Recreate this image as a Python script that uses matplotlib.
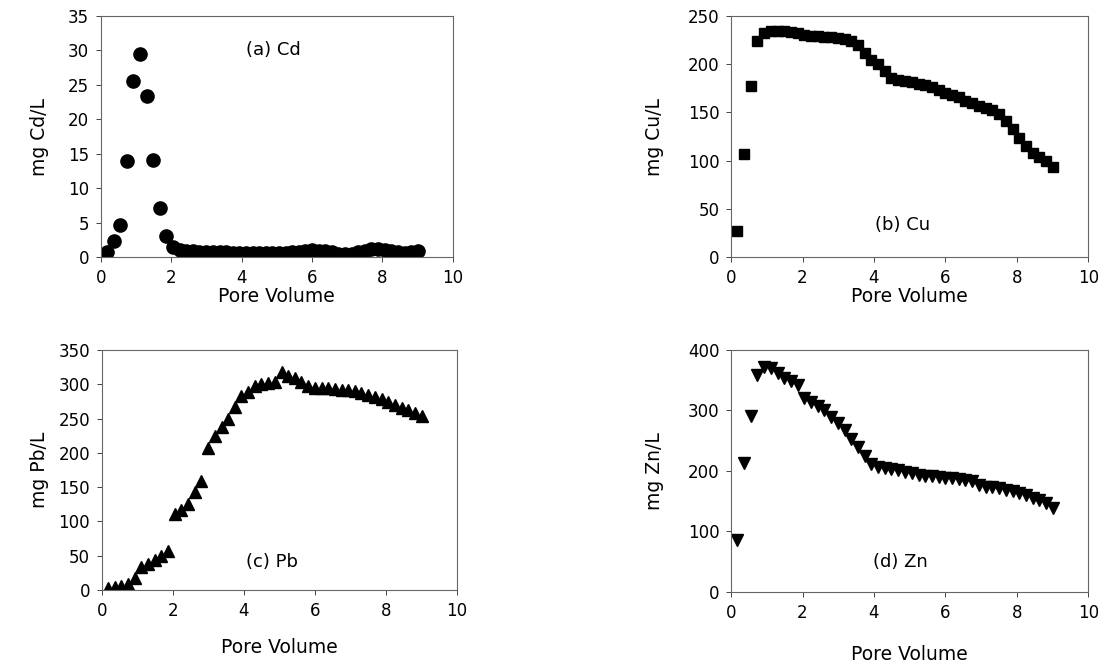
import matplotlib
matplotlib.use("Agg")
import matplotlib.pyplot as plt

plt.rcParams['font.family'] = ['DejaVu Sans']

# pore volume (same sampling for all four metals)
pore_volume = [0.17, 0.36, 0.55, 0.73, 0.92, 1.11, 1.30, 1.49, 1.67, 1.86,
               2.05, 2.24, 2.43, 2.61, 2.80, 2.99, 3.18, 3.37, 3.55, 3.74,
               3.93, 4.12, 4.31, 4.49, 4.68, 4.87, 5.06, 5.25, 5.43, 5.62,
               5.81, 6.00, 6.19, 6.37, 6.56, 6.75, 6.94, 7.13, 7.31, 7.50,
               7.69, 7.88, 8.07, 8.25, 8.44, 8.63, 8.82, 9.01]

cd = [0.7, 2.4, 4.7, 14.0, 25.6, 29.5, 23.4, 14.1, 7.1, 3.1,
      1.5, 1.0, 0.9, 0.85, 0.8, 0.8, 0.75, 0.7, 0.7, 0.65,
      0.65, 0.6, 0.6, 0.6, 0.6, 0.55, 0.55, 0.6, 0.7, 0.8,
      0.95, 1.0, 0.95, 0.85, 0.7, 0.5, 0.4, 0.45, 0.7, 0.95,
      1.15, 1.2, 1.1, 0.9, 0.7, 0.6, 0.7, 0.9]

cu = [27, 107, 177, 224, 232, 235, 235, 234, 233, 232,
      230, 229, 229, 228, 228, 227, 226, 224, 220, 212,
      204, 200, 193, 186, 184, 183, 182, 180, 178, 176,
      173, 170, 168, 166, 162, 160, 157, 155, 153, 148,
      141, 133, 124, 115, 108, 104, 100, 93]

pb = [2, 4, 5, 8, 17, 34, 37, 43, 49, 57,
      111, 117, 125, 143, 159, 207, 224, 237, 249, 267,
      283, 289, 297, 301, 302, 303, 318, 312, 309, 303,
      297, 295, 294, 294, 293, 292, 291, 290, 288, 285,
      282, 278, 274, 270, 266, 262, 258, 254]

zn = [86, 213, 291, 358, 372, 370, 362, 354, 348, 342,
      320, 314, 308, 300, 290, 279, 267, 253, 239, 225,
      212, 207, 205, 203, 201, 199, 196, 194, 192, 191,
      190, 189, 188, 187, 185, 183, 177, 174, 173, 171,
      169, 166, 163, 160, 156, 152, 147, 138]

panels = [
    # values, marker, size, ylabel, ymax, ystep, tag, tag_xy, rect, ylab_x, xlab_y
    (cd, 'o', 9.5, 'mg Cd/L', 35, 5, '(a) Cd', (4.9, 30), [0.0913, 0.615, 0.318, 0.361], -0.148, -0.125),
    (cu, 's', 7.5, 'mg Cu/L', 250, 50, '(b) Cu', (4.8, 33), [0.661, 0.615, 0.323, 0.361], -0.188, -0.125),
    (pb, '^', 9, 'mg Pb/L', 350, 50, '(c) Pb', (4.8, 41), [0.0922, 0.117, 0.321, 0.359], -0.149, -0.20),
    (zn, 'v', 9, 'mg Zn/L', 400, 100, '(d) Zn', (4.75, 50), [0.661, 0.114, 0.323, 0.362], -0.188, -0.218),
]

fig = plt.figure(figsize=(11.06, 6.68), dpi=100)

for vals, mk, ms, ylab, ymax, ystep, tag, txy, rect, ylx, xly in panels:
    ax = fig.add_axes(rect)
    ax.plot(pore_volume, vals, linestyle='none', marker=mk, markersize=ms,
            color='black', markeredgecolor='black')
    ax.set_xlim(0, 10)
    ax.set_ylim(0, ymax)
    ax.set_xticks(range(0, 11, 2))
    ax.set_yticks(range(0, ymax + 1, ystep))
    ax.tick_params(direction='out', length=3.5, width=0.7, color='#444444',
                   labelsize=12, pad=5)
    for sp in ax.spines.values():
        sp.set_linewidth(0.8)
        sp.set_color('#666666')
    ax.set_xlabel('Pore Volume', fontsize=13.5)
    ax.set_ylabel(ylab, fontsize=13.5)
    ax.yaxis.set_label_coords(ylx, 0.5)
    ax.xaxis.set_label_coords(0.5, xly)
    ax.text(txy[0], txy[1], tag, fontsize=13, ha='center', va='center')

fig.savefig('out.png', dpi=100)
